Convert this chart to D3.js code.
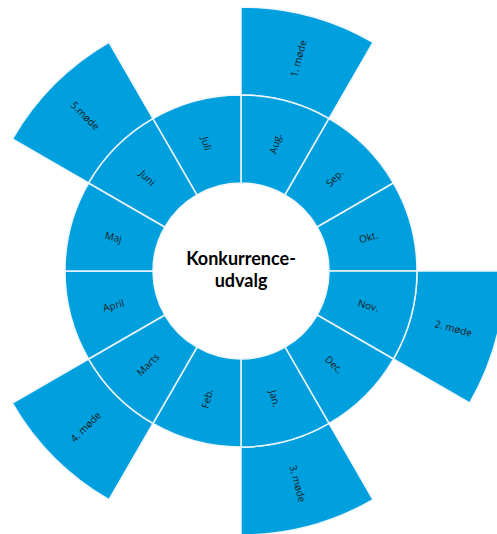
<!DOCTYPE html>
<html><head><meta charset="utf-8">
<script src="https://cdn.jsdelivr.net/npm/d3@7"></script>
<style>html,body{margin:0;padding:0;background:#fff;}svg{display:block;}</style>
</head><body>
<svg id="chart" width="497" height="534"></svg>
<script>
const months = ["Aug.","Sep.","Okt.","Nov.","Dec.","Jan.","Feb.","Marts","April","Maj","Juni","Juli"];
const meetings = ["1. møde","","","2. møde","","3. møde","","4. møde","","","5.møde",""];
const centerLines = ["Konkurrence-","udvalg"];

const W = 497, H = 534, cx = 241, cy = 271;
const r0 = 88, r1 = 176, r2 = 264;
const fill = "#00A0DF";

const svg = d3.select("#chart");
const g = svg.append("g").attr("transform", `translate(${cx},${cy})`);

const pie = d3.pie().value(1).sort(null);
const arcs = pie(months.map((m, i) => ({month: m, meeting: meetings[i]})));

const ringArc = d3.arc().innerRadius(r0).outerRadius(r1);
const meetArc = d3.arc().innerRadius(r1).outerRadius(r2);

function rot(a) {
  const deg = a * 180 / Math.PI;
  return deg < 180 ? deg - 90 : deg - 270;
}

// meeting segments
g.selectAll("path.meet").data(arcs.filter(d => d.data.meeting)).join("path")
  .attr("class", "meet").attr("d", meetArc)
  .attr("fill", fill).attr("stroke", "#eef6fb").attr("stroke-width", 1.5);

// month ring
g.selectAll("path.month").data(arcs).join("path")
  .attr("class", "month").attr("d", ringArc)
  .attr("fill", fill).attr("stroke", "#eef6fb").attr("stroke-width", 1.5);

function label(sel, r) {
  sel.attr("transform", d => {
    const a = (d.startAngle + d.endAngle) / 2;
    const x = Math.sin(a) * r, y = -Math.cos(a) * r;
    return `translate(${x},${y}) rotate(${rot(a)})`;
  })
  .attr("text-anchor", "middle").attr("dominant-baseline", "central")
  .attr("font-family", "'Open Sans', sans-serif").attr("font-size", 10)
  .attr("fill", "#1a1a1a");
}

g.selectAll("text.mlab").data(arcs).join("text").attr("class", "mlab")
  .text(d => d.data.month).call(label, (r0 + r1) / 2);

g.selectAll("text.meetlab").data(arcs.filter(d => d.data.meeting)).join("text").attr("class", "meetlab")
  .text(d => d.data.meeting).call(label, (r1 + r2) / 2);

g.selectAll("text.center").data(centerLines).join("text").attr("class", "center")
  .attr("x", 0).attr("y", (d, i) => -6 + i * 22)
  .attr("text-anchor", "middle")
  .attr("font-family", "Lato, sans-serif").attr("font-weight", "bold").attr("font-size", 18)
  .attr("fill", "#000")
  .text(d => d);
</script>
</body></html>
